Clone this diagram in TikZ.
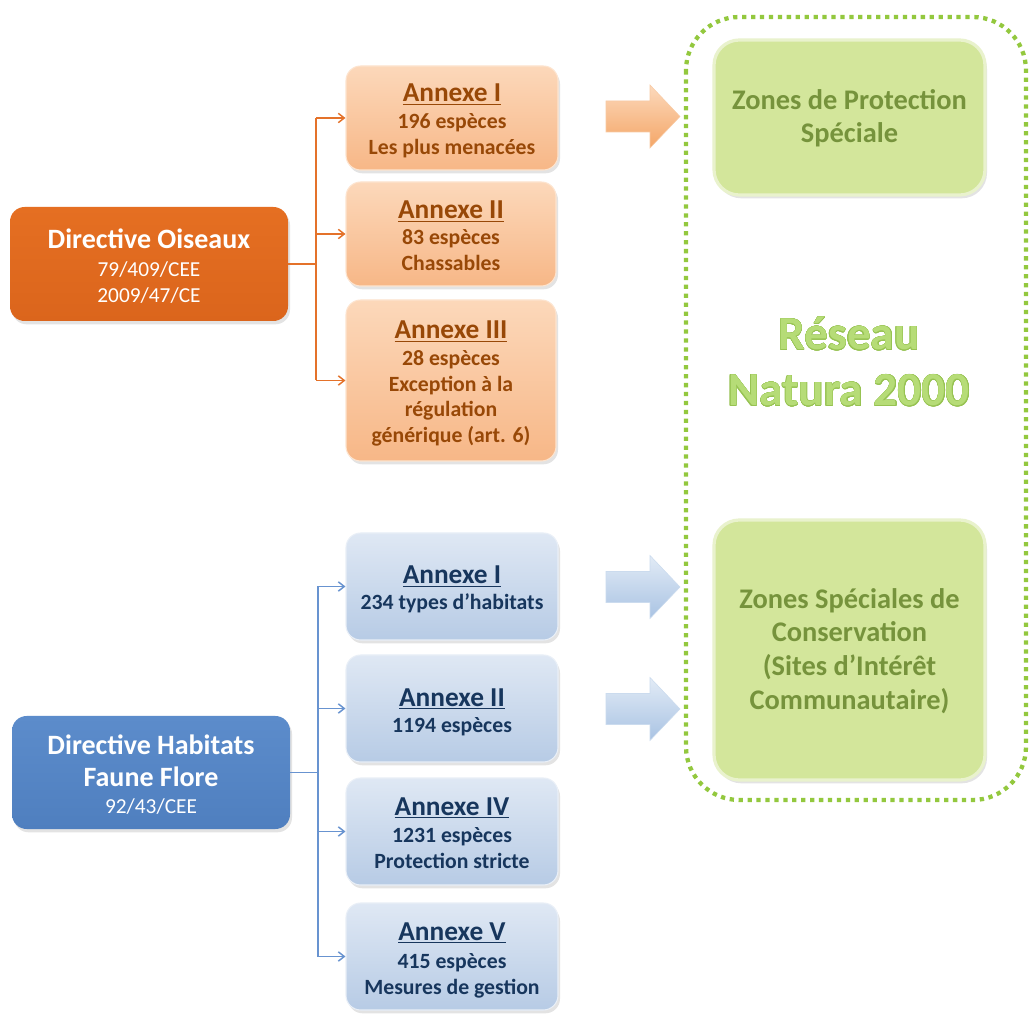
\documentclass[tikz,border=0pt]{standalone}
\usepackage{fontspec}
\setmainfont{Carlito}
\usepackage{contour}
\usetikzlibrary{shadows,arrows.meta}
\definecolor{odark}{HTML}{E56F22}
\definecolor{odarkb}{HTML}{DB651C}
\definecolor{olightt}{HTML}{FCD8BA}
\definecolor{olightb}{HTML}{F7B787}
\definecolor{otext}{HTML}{984807}
\definecolor{oline}{HTML}{E4722A}
\definecolor{bdark}{HTML}{5C8CCB}
\definecolor{bdarkb}{HTML}{4F7FBF}
\definecolor{blightt}{HTML}{DFE8F4}
\definecolor{blightb}{HTML}{B7CBE5}
\definecolor{btext}{HTML}{17365D}
\definecolor{bline}{HTML}{6893D0}
\definecolor{gfill}{HTML}{D3E69B}
\definecolor{gtext}{HTML}{76933C}
\definecolor{gdot}{HTML}{93C83E}
\definecolor{gres}{HTML}{B6DC77}
\definecolor{gresd}{HTML}{97C352}
\definecolor{oarT}{HTML}{FCD9BC}
\definecolor{oarB}{HTML}{F4A667}
\definecolor{barT}{HTML}{E2EBF6}
\definecolor{barB}{HTML}{A9C3E3}
\contourlength{0.22pt}
\tikzset{
  boxbase/.style={rectangle, inner sep=0pt, drop shadow={opacity=0.22,shadow xshift=1.5pt,shadow yshift=-2.5pt}},
  dirO/.style={boxbase, rounded corners=11pt, top color=odark, bottom color=odarkb},
  dirH/.style={boxbase, rounded corners=11pt, top color=bdark, bottom color=bdarkb},
  annO/.style={boxbase, rounded corners=11pt, top color=olightt, bottom color=olightb, draw=olightt!70!white, line width=0.8pt},
  annH/.style={boxbase, rounded corners=11pt, top color=blightt, bottom color=blightb, draw=blightt!70!white, line width=0.8pt},
  zone/.style={boxbase, rounded corners=19pt, fill=gfill, draw=gfill!50!white, line width=2.4pt},
  wtitle/.style={anchor=base, text=white, font=\bfseries\fontsize{21}{24}\selectfont},
  wsub/.style={anchor=base, text=white, font=\fontsize{16}{19}\selectfont},
  otitle/.style={anchor=base, text=otext, font=\bfseries\fontsize{20.5}{24}\selectfont},
  osub/.style={anchor=base, text=otext, font=\bfseries\fontsize{16.3}{19}\selectfont},
  btitle/.style={anchor=base, text=btext, font=\bfseries\fontsize{20.5}{24}\selectfont},
  bsub/.style={anchor=base, text=btext, font=\bfseries\fontsize{16.3}{19}\selectfont},
  gtxt/.style={anchor=base, text=gtext, font=\bfseries\fontsize{21.3}{24}\selectfont},
  restxt/.style={anchor=base, text=gres, font=\bfseries\fontsize{35.5}{40}\selectfont},
  olink/.style={draw=oline, line width=1.1pt},
  blink/.style={draw=bline, line width=1.1pt},
  otip/.style={olink, -{Straight Barb[length=4.5pt,width=7pt]}},
  btip/.style={blink, -{Straight Barb[length=4.5pt,width=7pt]}},
  oarrow/.style={top color=oarT, bottom color=oarB, draw=oarB!60!white, line width=0.4pt},
  barrow/.style={top color=barT, bottom color=barB, draw=barB!60!white, line width=0.4pt},
}
\newcommand{\blockarrow}[2]{%
  \path[#2, shift={(606,#1)}] (0,-15.5) -- (44,-15.5) -- (44,-31.5) -- (74,0) -- (44,31.5) -- (44,15.5) -- (0,15.5) -- cycle;}
\begin{document}
\begin{tikzpicture}[x=0.75pt,y=-0.75pt]
\useasboundingbox[fill=white] (0,0) rectangle (1033,1023);

% dotted frame
\draw[gdot, line width=3.2pt, dash pattern=on 3.2pt off 3.5pt, rounded corners=40pt] (686,17) rectangle (1026,800);

% ---- Directive Oiseaux
\node[dirO, minimum width={278*0.75pt}, minimum height={114*0.75pt}] (dO) at (149,264) {};
\node[wtitle] (dOa) at (149,249) {Directive Oiseaux};
\node[wsub] (dOb) at (149,277) {79/409/CEE};
\node[wsub] (dOc) at (149,303) {2009/47/CE};

\node[annO, minimum width={212*0.75pt}, minimum height={104*0.75pt}] (o1) at (452,118) {};
\node[otitle] (o1a) at (452,102) {\underline{Annexe I}};
\node[osub] (o1b) at (452,129) {196 espèces};
\node[osub] (o1c) at (452,155) {Les plus menacées};

\node[annO, minimum width={210*0.75pt}, minimum height={104*0.75pt}] (o2) at (451,234) {};
\node[otitle] (o2a) at (451,219) {\underline{Annexe II}};
\node[osub] (o2b) at (451,245) {83 espèces};
\node[osub] (o2c) at (451,271) {Chassables};

\node[annO, minimum width={210*0.75pt}, minimum height={161*0.75pt}] (o3) at (451,380.5) {};
\node[otitle] (o3a) at (451,339) {\underline{Annexe III}};
\node[osub] (o3b) at (451,366) {28 espèces};
\node[osub] (o3c) at (451,392) {Exception à la};
\node[osub] (o3d) at (451,417) {régulation};
\node[osub] (o3e) at (451,443) {générique (art. 6)};

\coordinate (oj) at (316,264);
\draw[olink] (dO.east) -- (oj);
\draw[olink] (oj |- o1.west) -- (oj |- o3.west);
\draw[otip] (oj |- o1.west) -- (o1.west);
\draw[otip] (oj |- o2.west) -- (o2.west);
\draw[otip] (oj |- o3.west) -- (o3.west);

% ---- Directive Habitats
\node[dirH, minimum width={278*0.75pt}, minimum height={113*0.75pt}] (dH) at (151,772.5) {};
\node[wtitle] (dHa) at (151,754) {Directive Habitats};
\node[wtitle] (dHb) at (151,787) {Faune Flore};
\node[wsub] (dHc) at (151,813) {92/43/CEE};

\node[annH, minimum width={212*0.75pt}, minimum height={107*0.75pt}] (h1) at (452,586.5) {};
\node[btitle] (h1a) at (452,584) {\underline{Annexe I}};
\node[bsub] (h1b) at (452,610) {234 types d’habitats};

\node[annH, minimum width={212*0.75pt}, minimum height={107*0.75pt}] (h2) at (452,708.5) {};
\node[btitle] (h2a) at (452,706) {\underline{Annexe II}};
\node[bsub] (h2b) at (452,733) {1194 espèces};

\node[annH, minimum width={212*0.75pt}, minimum height={107*0.75pt}] (h4) at (452,831.5) {};
\node[btitle] (h4a) at (452,815) {\underline{Annexe IV}};
\node[bsub] (h4b) at (452,842) {1231 espèces};
\node[bsub] (h4c) at (452,868) {Protection stricte};

\node[annH, minimum width={212*0.75pt}, minimum height={107*0.75pt}] (h5) at (452,956.5) {};
\node[btitle] (h5a) at (452,940) {\underline{Annexe V}};
\node[bsub] (h5b) at (452,968) {415 espèces};
\node[bsub] (h5c) at (452,994) {Mesures de gestion};

\coordinate (hj) at (318,772.5);
\draw[blink] (dH.east) -- (hj);
\draw[blink] (hj |- h1.west) -- (hj |- h5.west);
\draw[btip] (hj |- h1.west) -- (h1.west);
\draw[btip] (hj |- h2.west) -- (h2.west);
\draw[btip] (hj |- h4.west) -- (h4.west);
\draw[btip] (hj |- h5.west) -- (h5.west);

% ---- block arrows
\blockarrow{116.5}{oarrow}
\blockarrow{587}{barrow}
\blockarrow{709}{barrow}

% ---- green zones
\node[zone, minimum width={271*0.75pt}, minimum height={155*0.75pt}] (z1) at (849.5,117.5) {};
\node[gtxt] (z1a) at (849.5,110) {Zones de Protection};
\node[gtxt] (z1b) at (849.5,143) {Spéciale};

\node[zone, minimum width={271*0.75pt}, minimum height={260*0.75pt}] (z2) at (849.5,650) {};
\node[gtxt] (z2a) at (849.5,609) {Zones Spéciales de};
\node[gtxt] (z2b) at (849.5,642) {Conservation};
\node[gtxt] (z2c) at (849.5,676) {(Sites d’Intérêt};
\node[gtxt] (z2d) at (849.5,710) {Communautaire)};

% ---- Reseau
\node[restxt] (r1) at (849,350) {\contour{gresd}{Réseau}};
\node[restxt] (r2) at (849,406) {\contour{gresd}{Natura 2000}};
\end{tikzpicture}
\end{document}
